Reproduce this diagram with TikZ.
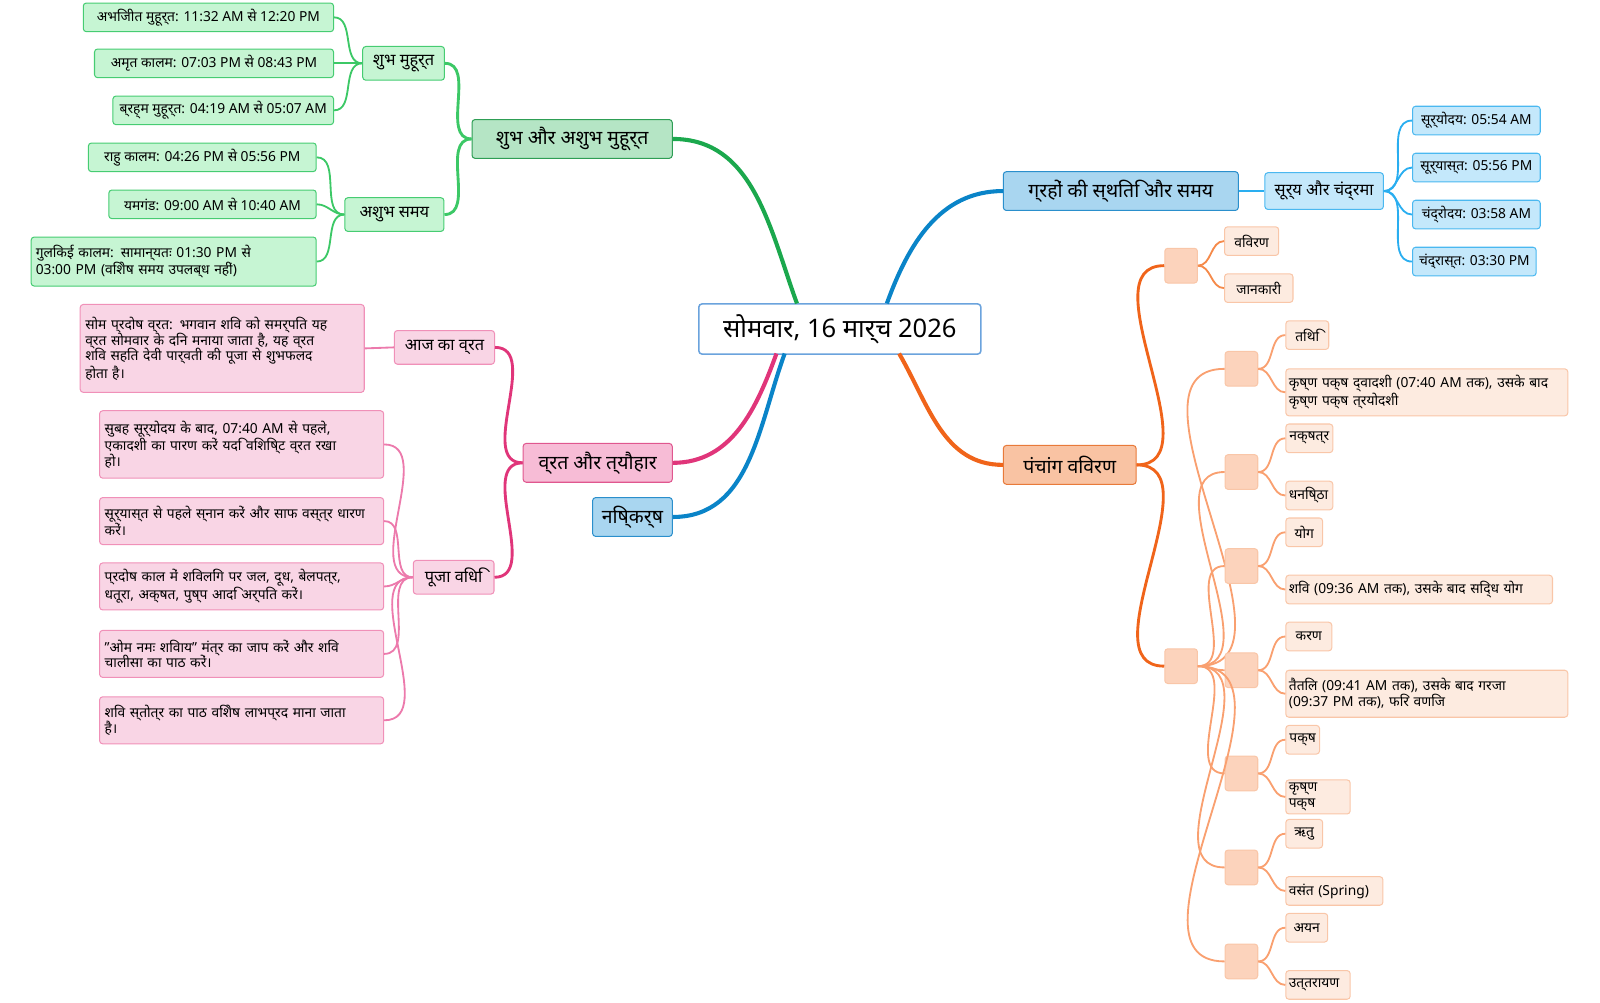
\documentclass[tikz,border=0pt]{standalone}
\usepackage{fontspec}
\setmainfont{Noto Sans}
\begin{document}
\begin{tikzpicture}[x=1pt,y=-1pt,
 box/.style={draw,rounded corners=3pt,line width=1pt,inner sep=3pt,font=\fontsize{13.5}{15.5}\selectfont,align=left,minimum height=28pt},
 root/.style={box,draw=cyan!60!blue!60,fill=white,line width=1.5pt,font=\bfseries\fontsize{25}{28}\selectfont,minimum width=276pt,minimum height=49pt,align=center},
 lg/.style={box,fill=G1,draw=G2,font=\bfseries\fontsize{19}{22}\selectfont,minimum height=38pt,align=center},
 lb/.style={box,fill=B1,draw=B2,font=\bfseries\fontsize{19}{22}\selectfont,minimum height=38pt,align=center},
 lo/.style={box,fill=O1,draw=O2,font=\bfseries\fontsize{19}{22}\selectfont,minimum height=38pt,align=center},
 lp/.style={box,fill=P1,draw=P2,font=\bfseries\fontsize{19}{22}\selectfont,minimum height=38pt,align=center},
 g2/.style={box,fill=G3,draw=G4,font=\fontsize{16}{19}\selectfont,minimum height=33pt,align=center},
 b2/.style={box,fill=B3,draw=B4,font=\fontsize{16}{19}\selectfont,minimum height=36pt,align=center},
 p2/.style={box,fill=P3,draw=P4,font=\fontsize{16}{19}\selectfont,minimum height=33pt,align=center},
 gl/.style={box,fill=G3,draw=G4},
 bl/.style={box,fill=B3,draw=B4},
 pl/.style={box,fill=P3,draw=P4},
 ol/.style={box,fill=O3,draw=O4},
 oe/.style={box,fill=O5,draw=O4,minimum width=32pt,minimum height=34pt},
 e1/.style={line width=4pt},
 e2/.style={line width=2.8pt},
 e3/.style={line width=1.8pt},
]
\definecolor{G1}{HTML}{B5E5C5}\definecolor{G2}{HTML}{2E9E55}
\definecolor{G3}{HTML}{C6F5D3}\definecolor{G4}{HTML}{46CC72}
\definecolor{GE}{HTML}{1BA84D}\definecolor{GE2}{HTML}{3CC866}
\definecolor{B1}{HTML}{A9D6F0}\definecolor{B2}{HTML}{2A8FCC}
\definecolor{B3}{HTML}{C4E8FB}\definecolor{B4}{HTML}{4AB8F0}
\definecolor{BE}{HTML}{0A84C8}\definecolor{BE2}{HTML}{2AAEF0}
\definecolor{O1}{HTML}{F9C3A3}\definecolor{O2}{HTML}{E87A3A}
\definecolor{O3}{HTML}{FDEBE0}\definecolor{O4}{HTML}{F9C6A8}
\definecolor{O5}{HTML}{FCD3BC}
\definecolor{OE}{HTML}{F0641A}\definecolor{OE2}{HTML}{F58A4A}\definecolor{OE3}{HTML}{F9A070}
\definecolor{P1}{HTML}{F7BCD6}\definecolor{P2}{HTML}{E0578F}
\definecolor{P3}{HTML}{F9D5E5}\definecolor{P4}{HTML}{F090B8}
\definecolor{PE}{HTML}{E0357A}\definecolor{PE2}{HTML}{EC7AAC}
\useasboundingbox (0,0) rectangle (1566,981);
% root
\node[root] (r) at (822,322) {सोमवार, 16 मार्च 2026};
% level 1
\node[lg,minimum width=196pt] (A) at (560,136) {शुभ और अशुभ मुहूर्त};
\node[lb,minimum width=230pt] (B) at (1097,187) {ग्रहों की स्थिति और समय};
\node[lo,minimum width=130pt] (C) at (1047,455) {पंचांग विवरण};
\node[lp,minimum width=146pt] (D) at (585,453) {व्रत और त्यौहार};
\node[lb,minimum width=78pt] (E) at (619,506) {निष्कर्ष};
\draw[e1,GE] (780,297) to[out=110,in=0] (A.east);
\draw[e1,BE] (868,297) to[out=70,in=180] (B.west);
\draw[e1,OE] (880,346) to[out=-60,in=180] (C.west);
\draw[e1,PE] (760,346) to[out=-110,in=0] (D.east);
\draw[e1,BE] (768,346) to[out=-110,in=0] (E.east);
% green
\node[g2,minimum width=80pt] (A1) at (395,62) {शुभ मुहूर्त};
\node[g2,minimum width=97pt] (A2) at (386,210) {अशुभ समय};
\draw[e2,GE2] (A.west) to[out=180,in=0] (A1.east);
\draw[e2,GE2] (A.west) to[out=180,in=0] (A2.east);
\node[gl,minimum width=245pt,anchor=east] (a1) at (327,17) {अभिजीत मुहूर्त: 11:32 AM से 12:20 PM};
\node[gl,minimum width=234pt,anchor=east] (a2) at (327,62) {अमृत कालम: 07:03 PM से 08:43 PM};
\node[gl,minimum width=216pt,anchor=east] (a3) at (327,108) {ब्रह्म मुहूर्त: 04:19 AM से 05:07 AM};
\node[gl,minimum width=223pt,anchor=east] (a4) at (310,154) {राहु कालम: 04:26 PM से 05:56 PM};
\node[gl,minimum width=203pt,anchor=east] (a5) at (310,200) {यमगंड: 09:00 AM से 10:40 AM};
\node[gl,minimum width=279pt,minimum height=48pt,anchor=east,text width=270pt] (a6) at (310,256) {गुलिकई कालम: सामान्यतः 01:30 PM से\\03:00 PM (विशेष समय उपलब्ध नहीं)};
\foreach \n in {a1,a2,a3} \draw[e3,GE2] (A1.west) to[out=180,in=0] (\n.east);
\foreach \n in {a4,a5,a6} \draw[e3,GE2] (A2.west) to[out=180,in=0] (\n.east);
% blue
\node[b2,minimum width=116pt] (B1) at (1296,187) {सूर्य और चंद्रमा};
\draw[e2,BE2] (B.east) -- (B1.west);
\node[bl,minimum width=125pt,anchor=west] (b1) at (1382,118) {सूर्योदय: 05:54 AM};
\node[bl,minimum width=125pt,anchor=west] (b2) at (1382,164) {सूर्यास्त: 05:56 PM};
\node[bl,minimum width=125pt,anchor=west] (b3) at (1382,210) {चंद्रोदय: 03:58 AM};
\node[bl,minimum width=121pt,anchor=west] (b4) at (1382,256) {चंद्रास्त: 03:30 PM};
\foreach \n in {b1,b2,b3,b4} \draw[e3,BE2] (B1.east) to[out=0,in=180] (\n.west);
% orange
\node[oe] (c0) at (1156,260) {};
\node[oe] (c1) at (1156,652) {};
\draw[e2,OE] (C.east) to[out=0,in=180] (c0.west);
\draw[e2,OE] (C.east) to[out=0,in=180] (c1.west);
\node[ol,anchor=west,minimum width=53pt] (cv) at (1198,236) {विवरण};
\node[ol,anchor=west,minimum width=67pt] (cj) at (1198,282) {जानकारी};
\foreach \n in {cv,cj} \draw[e3,OE2] (c0.east) to[out=0,in=180] (\n.west);
\foreach \i/\y/\t/\w/\u/\v/\h in {
 1/361/तिथि/42/{कृष्ण पक्ष द्वादशी (07:40 AM तक), उसके बाद\\कृष्ण पक्ष त्रयोदशी}/278/46,
 2/462/नक्षत्र/46/धनिष्ठा/48/28,
 3/554/योग/36/{शिव (09:36 AM तक), उसके बाद सिद्ध योग}/263/28,
 4/656/करण/45/{तैतिल (09:41 AM तक), उसके बाद गरजा\\(09:37 PM तक), फिर वणिज}/278/46,
 5/757/पक्ष/33/कृष्ण पक्ष/65/28,
 6/849/ऋतु/36/वसंत (Spring)/97/28,
 7/941/अयन/41/उत्तरायण/65/28} {
 \node[oe] (k\i) at (1215,\y) {};
 \draw[e3,OE3] (c1.east) to[out=0,in=180] (k\i.west);
 \node[ol,anchor=west,minimum width=\w pt] (kt\i) at (1258,\y-33) {\t};
 \node[ol,anchor=west,text width=\v pt-8pt,minimum height=\h pt] (kv\i) at (1258,\y+23) {\u};
 \draw[e3,OE3] (k\i.east) to[out=0,in=180] (kt\i.west);
 \draw[e3,OE3] (k\i.east) to[out=0,in=180] (kv\i.west);
}
% pink
\node[p2,minimum width=98pt] (D1) at (435,340) {आज का व्रत};
\node[p2,minimum width=79pt] (D2) at (444,565) {पूजा विधि};
\draw[e2,PE] (D.west) to[out=180,in=0] (D1.east);
\draw[e2,PE] (D.west) to[out=180,in=0] (D2.east);
\node[pl,anchor=east,minimum width=278pt,minimum height=86pt,text width=268pt] (d0) at (357,341) {सोम प्रदोष व्रत: भगवान शिव को समर्पित यह\\व्रत सोमवार के दिन मनाया जाता है, यह व्रत\\शिव सहित देवी पार्वती की पूजा से शुभफलद\\होता है।};
\draw[e3,PE2] (D1.west) -- (d0.east);
\foreach \i/\y/\h/\t in {
 1/435/66/{सुबह सूर्योदय के बाद, 07:40 AM से पहले,\\एकादशी का पारण करें यदि विशिष्ट व्रत रखा\\हो।},
 2/510/46/{सूर्यास्त से पहले स्नान करें और साफ वस्त्र धारण\\करें।},
 3/574/46/{प्रदोष काल में शिवलिंग पर जल, दूध, बेलपत्र,\\धतूरा, अक्षत, पुष्प आदि अर्पित करें।},
 4/640/46/{"ओम नमः शिवाय" मंत्र का जाप करें और शिव\\चालीसा का पाठ करें।},
 5/705/46/{शिव स्तोत्र का पाठ विशेष लाभप्रद माना जाता\\है।}} {
 \node[pl,anchor=east,minimum width=278pt,minimum height=\h pt,text width=268pt] (dp\i) at (376,\y) {\t};
 \draw[e3,PE2] (D2.west) to[out=180,in=0] (dp\i.east);
}
\end{tikzpicture}
\end{document}
